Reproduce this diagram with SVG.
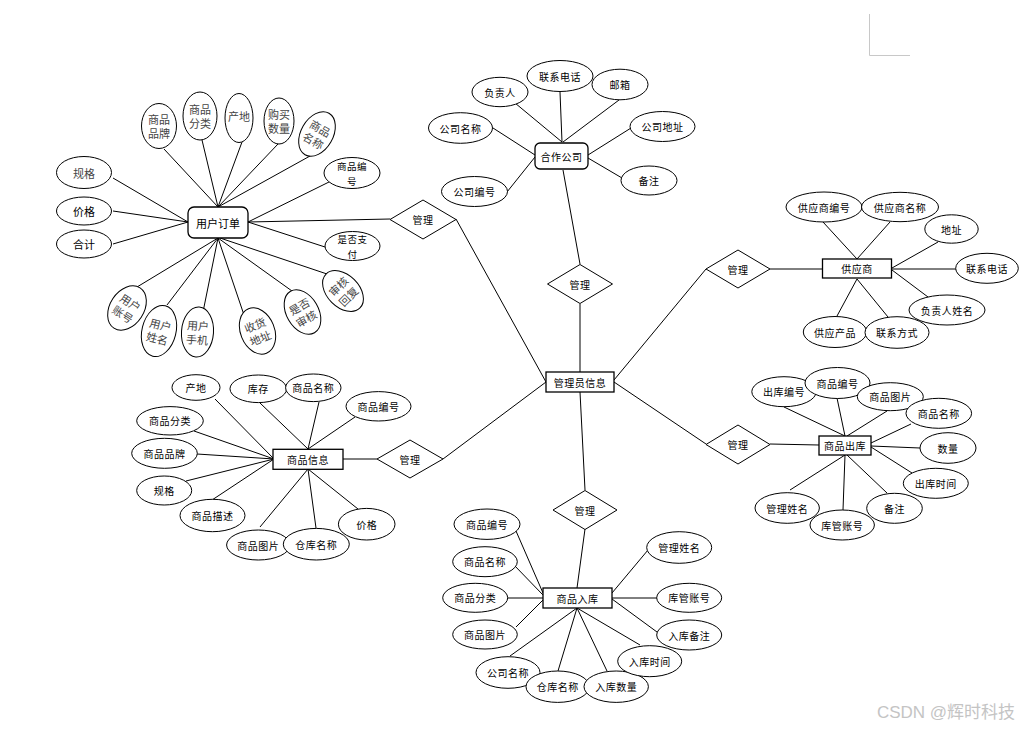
<svg xmlns="http://www.w3.org/2000/svg" width="1026" height="729" viewBox="0 0 1026 729">
<style>
.e{fill:#fff;stroke:#000;stroke-width:1}
.r{fill:#fff;stroke:#000;stroke-width:1.3}
.d{fill:#fff;stroke:#000;stroke-width:1}
.c line{stroke:#000;stroke-width:1}
text{font-family:"Noto Sans CJK SC",sans-serif;font-size:10px;text-anchor:middle;dominant-baseline:central;fill:#000;letter-spacing:0.5px}
.g{font-size:11px;fill:#444;letter-spacing:0}
.b{font-size:11px;letter-spacing:0}
.s{font-size:9.5px;letter-spacing:0.5px}
</style>
<rect width="1026" height="729" fill="#fff"/>
<path d="M869.5 14V55.5H910" fill="none" stroke="#c8c8c8" stroke-width="1"/>
<g id="connectors" class="c">
<line x1="164" y1="149" x2="218" y2="207"/>
<line x1="202" y1="140" x2="218" y2="207"/>
<line x1="242" y1="142" x2="218" y2="207"/>
<line x1="278" y1="144" x2="218" y2="207"/>
<line x1="310" y1="156" x2="218" y2="207"/>
<line x1="329" y1="182" x2="248" y2="222"/>
<line x1="113" y1="178" x2="188" y2="222"/>
<line x1="113" y1="211" x2="188" y2="222"/>
<line x1="113" y1="244" x2="188" y2="222"/>
<line x1="325" y1="247" x2="248" y2="222"/>
<line x1="330" y1="275" x2="220" y2="238"/>
<line x1="292" y1="291" x2="218" y2="238"/>
<line x1="244" y1="315" x2="218" y2="238"/>
<line x1="203" y1="312" x2="218" y2="238"/>
<line x1="167" y1="305" x2="218" y2="238"/>
<line x1="137" y1="287" x2="218" y2="238"/>
<line x1="248" y1="222" x2="390" y2="219"/>
<line x1="456" y1="219" x2="546" y2="382"/>
<line x1="515" y1="103" x2="562" y2="142"/>
<line x1="560" y1="92" x2="562" y2="142"/>
<line x1="619" y1="100" x2="563" y2="142"/>
<line x1="493" y1="128" x2="535" y2="155"/>
<line x1="631" y1="128" x2="588" y2="155"/>
<line x1="507" y1="192" x2="535" y2="157"/>
<line x1="622" y1="178" x2="588" y2="158"/>
<line x1="563" y1="170" x2="580" y2="264"/>
<line x1="580" y1="304" x2="580" y2="372"/>
<line x1="614" y1="380" x2="706" y2="269"/>
<line x1="770" y1="269" x2="823" y2="269"/>
<line x1="823" y1="222" x2="857" y2="259"/>
<line x1="890" y1="222" x2="857" y2="259"/>
<line x1="938" y1="242" x2="892" y2="268"/>
<line x1="956" y1="269" x2="892" y2="269"/>
<line x1="928" y1="297" x2="892" y2="270"/>
<line x1="837" y1="316" x2="857" y2="279"/>
<line x1="888" y1="317" x2="857" y2="279"/>
<line x1="614" y1="382" x2="706" y2="444"/>
<line x1="770" y1="444" x2="819" y2="445"/>
<line x1="784" y1="407" x2="845" y2="436"/>
<line x1="837" y1="398" x2="845" y2="436"/>
<line x1="887" y1="411" x2="847" y2="436"/>
<line x1="911" y1="424" x2="871" y2="443"/>
<line x1="920" y1="448" x2="871" y2="446"/>
<line x1="912" y1="473" x2="871" y2="447"/>
<line x1="887" y1="493" x2="847" y2="455"/>
<line x1="843" y1="510" x2="845" y2="455"/>
<line x1="790" y1="490" x2="845" y2="455"/>
<line x1="343" y1="459" x2="377" y2="459"/>
<line x1="443" y1="459" x2="546" y2="382"/>
<line x1="215" y1="399" x2="274" y2="459"/>
<line x1="260" y1="403" x2="308" y2="449"/>
<line x1="319" y1="402" x2="308" y2="449"/>
<line x1="355" y1="417" x2="308" y2="449"/>
<line x1="194" y1="431" x2="274" y2="459"/>
<line x1="197" y1="454" x2="274" y2="459"/>
<line x1="186" y1="481" x2="274" y2="459"/>
<line x1="212" y1="500" x2="274" y2="459"/>
<line x1="260" y1="527" x2="308" y2="469"/>
<line x1="316" y1="528" x2="308" y2="469"/>
<line x1="358" y1="509" x2="308" y2="469"/>
<line x1="580" y1="392" x2="585" y2="490"/>
<line x1="585" y1="529" x2="577" y2="588"/>
<line x1="516" y1="531" x2="543" y2="593"/>
<line x1="514" y1="565" x2="543" y2="595"/>
<line x1="508" y1="598" x2="543" y2="598"/>
<line x1="516" y1="627" x2="543" y2="600"/>
<line x1="510" y1="656" x2="577" y2="608"/>
<line x1="558" y1="671" x2="577" y2="608"/>
<line x1="607" y1="671" x2="577" y2="608"/>
<line x1="640" y1="645" x2="577" y2="608"/>
<line x1="657" y1="632" x2="612" y2="599"/>
<line x1="657" y1="598" x2="612" y2="598"/>
<line x1="648" y1="550" x2="612" y2="593"/>
</g>

<!-- central entity -->
<g id="admin" transform="translate(580,382)"><rect class="r" x="-34" y="-10" width="68" height="20"/><text>管理员信息</text></g>

<!-- relationships -->
<g id="rel-order" transform="translate(423,219.5)"><polygon class="d" points="-33,0 0,-19.5 33,0 0,19.5"/><text>管理</text></g>
<g id="rel-company" transform="translate(580,284)"><polygon class="d" points="-32.5,0 0,-19.5 32.5,0 0,19.5"/><text>管理</text></g>
<g id="rel-supplier" transform="translate(738,269)"><polygon class="d" points="-32,0 0,-19 32,0 0,19"/><text>管理</text></g>
<g id="rel-out" transform="translate(738,444.5)"><polygon class="d" points="-32,0 0,-19.5 32,0 0,19.5"/><text>管理</text></g>
<g id="rel-goods" transform="translate(410,459)"><polygon class="d" points="-33,0 0,-19 33,0 0,19"/><text>管理</text></g>
<g id="rel-in" transform="translate(585,510)"><polygon class="d" points="-32,0 0,-19.5 32,0 0,19.5"/><text>管理</text></g>

<!-- 用户订单 -->
<g id="order" transform="translate(218,222.5)"><rect class="r" x="-30" y="-15.5" width="60" height="31" rx="6"/><text class="b">用户订单</text></g>
<g id="o-brand" transform="translate(159,126)"><ellipse class="e" rx="17.5" ry="22.5"/><text class="g" y="-7">商品</text><text class="g" y="7">品牌</text></g>
<g id="o-cat" transform="translate(200,116)"><ellipse class="e" rx="17" ry="24"/><text class="g" y="-7">商品</text><text class="g" y="7">分类</text></g>
<g id="o-origin" transform="translate(239,118)"><ellipse class="e" rx="14" ry="24.5"/><text class="g" y="-2">产地</text></g>
<g id="o-qty" transform="translate(279,121)"><ellipse class="e" rx="15" ry="23"/><text class="g" y="-7">购买</text><text class="g" y="7">数量</text></g>
<g id="o-name" transform="translate(317,134) rotate(30)"><ellipse class="e" rx="16" ry="24"/><text class="g" y="-7">商品</text><text class="g" y="7">名称</text></g>
<g id="o-no" transform="translate(352,173)"><ellipse class="e" rx="28" ry="15.5"/><text class="s" y="-7">商品编</text><text class="s" y="7.5">号</text></g>
<g id="o-spec" transform="translate(84,172.5)"><ellipse class="e" rx="27.5" ry="16"/><text class="g">规格</text></g>
<g id="o-price" transform="translate(84,211)"><ellipse class="e" rx="27.5" ry="14"/><text class="b">价格</text></g>
<g id="o-total" transform="translate(84,244)"><ellipse class="e" rx="27.5" ry="14"/><text class="b">合计</text></g>
<g id="o-paid" transform="translate(352.5,246)"><ellipse class="e" rx="27.5" ry="14.5"/><text class="s" y="-7">是否支</text><text class="s" y="7.5">付</text></g>
<g id="o-reply" transform="translate(343,291) rotate(-45)"><ellipse class="e" rx="16" ry="24"/><text class="g" y="-7">审核</text><text class="g" y="7">回复</text></g>
<g id="o-audit" transform="translate(302.5,312) rotate(-30)"><ellipse class="e" rx="16" ry="24"/><text class="g" y="-7">是否</text><text class="g" y="7">审核</text></g>
<g id="o-addr" transform="translate(257.5,331) rotate(-22)"><ellipse class="e" rx="17" ry="24"/><text class="g" y="-7">收货</text><text class="g" y="7">地址</text></g>
<g id="o-phone" transform="translate(197.5,332) rotate(4)"><ellipse class="e" rx="16" ry="25"/><text class="g" y="-7">用户</text><text class="g" y="7">手机</text></g>
<g id="o-uname" transform="translate(159,331) rotate(14)"><ellipse class="e" rx="17" ry="26"/><text class="g" y="-7">用户</text><text class="g" y="7">姓名</text></g>
<g id="o-acct" transform="translate(127,308) rotate(33)"><ellipse class="e" rx="17" ry="24"/><text class="g" y="-7">用户</text><text class="g" y="7">账号</text></g>

<!-- 合作公司 -->
<g id="company" transform="translate(561.5,156)"><rect class="r" x="-26.5" y="-13" width="53" height="26" rx="5"/><text>合作公司</text></g>
<g id="c-owner" transform="translate(500,92)"><ellipse class="e" rx="28" ry="14.7"/><text>负责人</text></g>
<g id="c-tel" transform="translate(560,76)"><ellipse class="e" rx="33" ry="15.5"/><text>联系电话</text></g>
<g id="c-mail" transform="translate(620,84.5)"><ellipse class="e" rx="28" ry="15.3"/><text>邮箱</text></g>
<g id="c-name" transform="translate(460.5,128)"><ellipse class="e" rx="32" ry="15.3"/><text>公司名称</text></g>
<g id="c-addr" transform="translate(662.5,126.5)"><ellipse class="e" rx="32.5" ry="15"/><text>公司地址</text></g>
<g id="c-no" transform="translate(474.5,191.5)"><ellipse class="e" rx="33" ry="15"/><text>公司编号</text></g>
<g id="c-note" transform="translate(649,180.5)"><ellipse class="e" rx="28" ry="14.5"/><text>备注</text></g>

<!-- 供应商 -->
<g id="supplier" transform="translate(857,268.5)"><rect class="r" x="-34.5" y="-9.5" width="69" height="19"/><text>供应商</text></g>
<g id="s-no" transform="translate(824,207)"><ellipse class="e" rx="38" ry="15"/><text>供应商编号</text></g>
<g id="s-name" transform="translate(900,207)"><ellipse class="e" rx="38.5" ry="14.7"/><text>供应商名称</text></g>
<g id="s-addr" transform="translate(951.5,229)"><ellipse class="e" rx="26.7" ry="14.2"/><text>地址</text></g>
<g id="s-tel" transform="translate(987,268.3)"><ellipse class="e" rx="31.3" ry="15"/><text>联系电话</text></g>
<g id="s-owner" transform="translate(947,310)"><ellipse class="e" rx="38" ry="15"/><text>负责人姓名</text></g>
<g id="s-prod" transform="translate(835,332)"><ellipse class="e" rx="31.7" ry="15.5"/><text>供应产品</text></g>
<g id="s-contact" transform="translate(897,332.5)"><ellipse class="e" rx="32" ry="15.8"/><text>联系方式</text></g>

<!-- 商品出库 -->
<g id="outbound" transform="translate(845,445.5)"><rect class="r" x="-26" y="-9.5" width="52" height="19"/><text>商品出库</text></g>
<g id="out-no" transform="translate(784,391.7)"><ellipse class="e" rx="32.2" ry="15"/><text>出库编号</text></g>
<g id="out-gno" transform="translate(837.5,383)"><ellipse class="e" rx="32.5" ry="15.5"/><text>商品编号</text></g>
<g id="out-pic" transform="translate(890.3,396.7)"><ellipse class="e" rx="33" ry="14"/><text>商品图片</text></g>
<g id="out-name" transform="translate(938.8,413.3)"><ellipse class="e" rx="32.8" ry="15"/><text>商品名称</text></g>
<g id="out-qty" transform="translate(948,448)"><ellipse class="e" rx="28" ry="15.3"/><text>数量</text></g>
<g id="out-time" transform="translate(935.8,483.3)"><ellipse class="e" rx="32.5" ry="15"/><text>出库时间</text></g>
<g id="out-note" transform="translate(894.5,508.3)"><ellipse class="e" rx="27.8" ry="15"/><text>备注</text></g>
<g id="out-mgr" transform="translate(787.2,508)"><ellipse class="e" rx="32.2" ry="15.3"/><text>管理姓名</text></g>
<g id="out-acct" transform="translate(842.2,525)"><ellipse class="e" rx="32.2" ry="15"/><text>库管账号</text></g>

<!-- 商品信息 -->
<g id="goods" transform="translate(308,459.3)"><rect class="r" x="-35" y="-10" width="70" height="20"/><text>商品信息</text></g>
<g id="g-origin" transform="translate(196,387.5)"><ellipse class="e" rx="24" ry="12.8"/><text>产地</text></g>
<g id="g-stock" transform="translate(258.3,388.8)"><ellipse class="e" rx="28.3" ry="13.8"/><text>库存</text></g>
<g id="g-name" transform="translate(313.3,387.8)"><ellipse class="e" rx="27.7" ry="13.8"/><text>商品名称</text></g>
<g id="g-no" transform="translate(378.5,406.3)"><ellipse class="e" rx="32.5" ry="14.7"/><text>商品编号</text></g>
<g id="g-cat" transform="translate(170,420.8)"><ellipse class="e" rx="33.3" ry="14.2"/><text>商品分类</text></g>
<g id="g-brand" transform="translate(164.5,453.3)"><ellipse class="e" rx="32.8" ry="15"/><text>商品品牌</text></g>
<g id="g-spec" transform="translate(164.2,490.5)"><ellipse class="e" rx="27.5" ry="14.5"/><text>规格</text></g>
<g id="g-desc" transform="translate(212.5,515.5)"><ellipse class="e" rx="32.5" ry="16.2"/><text>商品描述</text></g>
<g id="g-price" transform="translate(366.7,524.2)"><ellipse class="e" rx="28.3" ry="15.8"/><text>价格</text></g>
<g id="g-pic" transform="translate(258.3,545)"><ellipse class="e" rx="31.7" ry="15"/><text>商品图片</text></g>
<g id="g-wh" transform="translate(316.3,544.2)"><ellipse class="e" rx="33" ry="15.8"/><text>仓库名称</text></g>

<!-- 商品入库 -->
<g id="inbound" transform="translate(577.5,598)"><rect class="r" x="-34.5" y="-10" width="69" height="20"/><text>商品入库</text></g>
<g id="in-no" transform="translate(487,524.2)"><ellipse class="e" rx="33" ry="15.2"/><text>商品编号</text></g>
<g id="in-name" transform="translate(485,561.7)"><ellipse class="e" rx="32.3" ry="15"/><text>商品名称</text></g>
<g id="in-cat" transform="translate(475.2,597.8)"><ellipse class="e" rx="32.5" ry="14.5"/><text>商品分类</text></g>
<g id="in-pic" transform="translate(485,634.5)"><ellipse class="e" rx="32.3" ry="14.5"/><text>商品图片</text></g>
<g id="in-comp" transform="translate(508,672.5)"><ellipse class="e" rx="32" ry="15.8"/><text>公司名称</text></g>
<g id="in-wh" transform="translate(557.7,686.7)"><ellipse class="e" rx="31.7" ry="15.7"/><text>仓库名称</text></g>
<g id="in-qty" transform="translate(616.2,686.7)"><ellipse class="e" rx="32.2" ry="15.7"/><text>入库数量</text></g>
<g id="in-time" transform="translate(649.7,661.2)"><ellipse class="e" rx="32" ry="15.5"/><text>入库时间</text></g>
<g id="in-note" transform="translate(689.2,635)"><ellipse class="e" rx="32.5" ry="15"/><text>入库备注</text></g>
<g id="in-acct" transform="translate(689.2,597.8)"><ellipse class="e" rx="32.5" ry="14.5"/><text>库管账号</text></g>
<g id="in-mgr" transform="translate(679.2,547.5)"><ellipse class="e" rx="32.5" ry="15.8"/><text>管理姓名</text></g>

<text x="946" y="712" style="font-family:'Liberation Sans','Noto Sans CJK SC',sans-serif;font-size:17px;fill:#c4c4c4;letter-spacing:0">CSDN @辉时科技</text>
</svg>
